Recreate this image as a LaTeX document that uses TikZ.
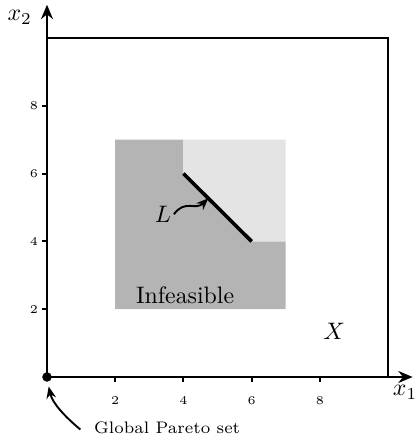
\documentclass[tikz,border=0pt]{standalone}
\usetikzlibrary{arrows.meta}
\definecolor{darkfill}{RGB}{180,180,180}
\definecolor{lightfill}{RGB}{228,228,228}
\tikzset{
  axis/.style={line width=1pt,-{Stealth[length=6pt,width=5pt]}},
  ticklab/.style={font=\tiny,inner sep=1pt},
  tickmark/.style={line width=0.8pt},
  pointer/.style={line width=0.8pt,-{Stealth[length=5pt,width=4pt]}}
}
\begin{document}
\begin{tikzpicture}[x=0.503cm,y=0.5cm]
\useasboundingbox (-1.378,-1.77) rectangle (10.77,11.12);
% regions
\fill[darkfill] (2,2) -- (7,2) -- (7,4) -- (6,4) -- (4,6) -- (4,7) -- (2,7) -- cycle;
\fill[lightfill] (4,7) -- (7,7) -- (7,4) -- (6,4) -- (4,6) -- cycle;
% feasible box
\draw[line width=0.8pt] (0,10) -- (10,10) -- (10,0);
% line L
\coordinate (la) at (4,6);
\coordinate (lb) at (6,4);
\draw[line width=1.5pt] (la) -- (lb);
% axes
\coordinate (o) at (0,0);
\coordinate (xe) at (10.72,0);
\coordinate (ye) at (0,10.98);
\draw[axis] (o) -- (xe);
\draw[axis] (o) -- (ye);
\node[inner sep=0pt] (x1) at (10.5,-0.45) {$x_1$};
\node[inner sep=0pt] (x2) at (-0.8,10.6) {$x_2$};
% ticks
\foreach \v in {2,4,6,8} {
  \draw[tickmark] (\v,0) -- (\v,-0.15);
  \node[ticklab] (tx\v) at (\v,-0.7) {\v};
  \draw[tickmark] (0,\v) -- (-0.15,\v);
  \node[ticklab] (ty\v) at (-0.38,\v) {\v};
}
% labels
\node[inner sep=1pt] (inf) at (4.05,2.4) {Infeasible};
\node[inner sep=1pt] (X) at (8.42,1.36) {$X$};
\node[inner sep=1pt] (L) at (3.4,4.8) {$L$};
\coordinate (lp) at (4.73,5.27);
\draw[pointer] (L.east) .. controls (4.05,5.25) and (4.35,4.9) .. (lp);
% Pareto
\fill (o) circle (2pt);
\node[font=\scriptsize,anchor=west,inner sep=1pt] (gp) at (1.3,-1.5) {Global Pareto set};
\coordinate (gs) at (0.98,-1.55);
\draw[pointer] (gs) .. controls (0.5,-1.15) and (0.15,-0.75) .. (0.05,-0.28);
\end{tikzpicture}
\end{document}
